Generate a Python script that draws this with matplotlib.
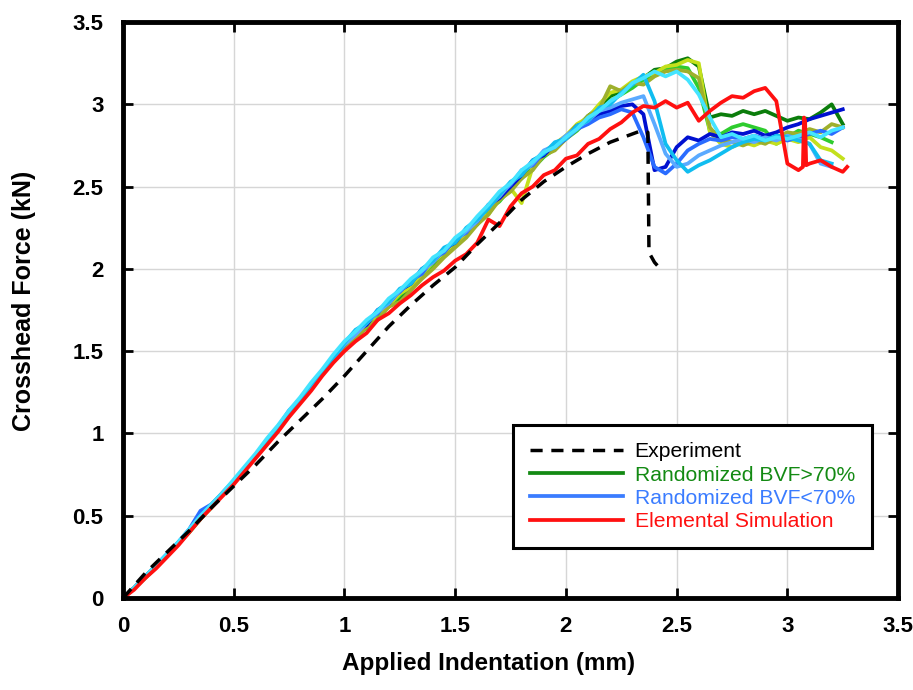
import numpy as np
import matplotlib
matplotlib.use('Agg')
import matplotlib.pyplot as plt
from matplotlib.lines import Line2D

nan = np.nan

# shared indentation grid (mm) for the simulation curves
x_grid = [0.00, 0.05, 0.10, 0.15, 0.20, 0.25, 0.30, 0.35, 0.40, 0.45,
          0.50, 0.55, 0.60, 0.65, 0.70, 0.75, 0.80, 0.85, 0.90, 0.95,
          1.00, 1.05, 1.10, 1.15, 1.20, 1.25, 1.30, 1.35, 1.40, 1.45,
          1.50, 1.55, 1.60, 1.65, 1.70, 1.75, 1.80, 1.85, 1.90, 1.95,
          2.00, 2.05, 2.10, 2.15, 2.20, 2.25, 2.30, 2.35, 2.40, 2.45,
          2.50, 2.55, 2.60, 2.65, 2.70, 2.75, 2.80, 2.85, 2.90, 2.95,
          3.00, 3.05, 3.10, 3.15, 3.20, 3.25]

# Randomized BVF>70% runs (kN)
bvf_high = {
    '#0b7d0b': [0.00, 0.06, 0.13, 0.19, 0.26, 0.33, 0.41, 0.48, 0.56, 0.63, 0.70,
                0.78, 0.86, 0.94, 1.03, 1.11, 1.20, 1.28, 1.37, 1.44, 1.52,
                1.58, 1.66, 1.70, 1.79, 1.81, 1.88, 1.96, 2.02, 2.08, 2.15,
                2.20, 2.29, 2.35, 2.43, 2.50, 2.55, 2.63, 2.70, 2.74, 2.80,
                2.86, 2.93, 2.98, 3.05, 3.08, 3.12, 3.16, 3.21, 3.22, 3.26,
                3.28, 3.23, 2.92, 2.94, 2.93, 2.96, 2.94, 2.96, 2.93, 2.90,
                2.92, 2.91, 2.95, 3.00, 2.88],
    '#2ecc2e': [0.00, 0.06, 0.12, 0.19, 0.26, 0.33, 0.40, 0.48, 0.55, 0.63, 0.70,
                0.78, 0.86, 0.94, 1.02, 1.11, 1.19, 1.28, 1.36, 1.44, 1.51,
                1.59, 1.64, 1.72, 1.77, 1.84, 1.90, 1.95, 2.03, 2.09, 2.14,
                2.22, 2.27, 2.36, 2.41, 2.49, 2.56, 2.61, 2.68, 2.73, 2.79,
                2.84, 2.91, 2.95, 3.02, 3.06, 3.10, 3.15, 3.18, 3.21, 3.23,
                3.22, 3.10, 2.84, 2.82, 2.86, 2.88, 2.86, 2.84, 2.76, 2.80,
                2.84, 2.82, 2.80, 2.77, nan],
    '#c4e01c': [0.00, 0.06, 0.13, 0.20, 0.26, 0.33, 0.41, 0.49, 0.56, 0.63, 0.70,
                0.78, 0.86, 0.95, 1.03, 1.12, 1.20, 1.29, 1.37, 1.45, 1.53,
                1.60, 1.65, 1.73, 1.78, 1.85, 1.89, 1.97, 2.04, 2.10, 2.16,
                2.21, 2.30, 2.33, 2.44, 2.49, 2.40, 2.62, 2.71, 2.76, 2.81,
                2.88, 2.92, 3.00, 3.07, 3.09, 3.14, 3.17, 3.19, 3.23, 3.24,
                3.27, 3.25, 2.83, 2.76, 2.74, 2.77, 2.75, 2.78, 2.76, 2.79,
                2.77, 2.80, 2.74, 2.72, 2.67],
    '#9eb02c': [0.00, 0.06, 0.13, 0.19, 0.26, 0.33, 0.41, 0.49, 0.56, 0.63, 0.70,
                0.78, 0.86, 0.94, 1.03, 1.11, 1.20, 1.28, 1.36, 1.44, 1.52,
                1.57, 1.65, 1.69, 1.77, 1.80, 1.87, 1.94, 2.00, 2.07, 2.13,
                2.19, 2.27, 2.33, 2.42, 2.47, 2.55, 2.60, 2.69, 2.72, 2.79,
                2.85, 2.93, 2.97, 3.11, 3.08, 3.13, 3.12, 3.17, 3.20, 3.21,
                3.20, 3.16, 2.86, 2.78, 2.77, 2.75, 2.78, 2.76, 2.80, 2.83,
                2.82, 2.85, 2.83, 2.88, 2.86],
}

# Randomized BVF<70% runs (kN)
bvf_low = {
    '#0010d0': [0.00, 0.06, 0.13, 0.19, 0.26, 0.33, 0.41, 0.50, 0.56, 0.64, 0.71,
                0.79, 0.87, 0.95, 1.04, 1.12, 1.21, 1.29, 1.38, 1.46, 1.54,
                1.62, 1.66, 1.75, 1.79, 1.87, 1.91, 2.00, 2.04, 2.12, 2.16,
                2.24, 2.29, 2.39, 2.43, 2.50, 2.57, 2.66, 2.69, 2.76, 2.80,
                2.87, 2.89, 2.94, 2.96, 2.99, 3.00, 2.94, 2.60, 2.62, 2.74,
                2.80, 2.78, 2.82, 2.80, 2.83, 2.82, 2.84, 2.81, 2.83, 2.86,
                2.88, 2.91, 2.93, 2.95, 2.97],
    '#2a6cff': [0.00, 0.06, 0.13, 0.20, 0.27, 0.34, 0.42, 0.53, 0.57, 0.64, 0.71,
                0.79, 0.87, 0.96, 1.04, 1.14, 1.21, 1.30, 1.38, 1.46, 1.55,
                1.61, 1.68, 1.73, 1.81, 1.86, 1.93, 1.97, 2.06, 2.10, 2.18,
                2.22, 2.31, 2.37, 2.46, 2.51, 2.60, 2.63, 2.71, 2.74, 2.79,
                2.85, 2.88, 2.92, 2.94, 2.97, 2.95, 2.80, 2.62, 2.58, 2.64,
                2.72, 2.76, 2.79, 2.78, 2.80, 2.79, 2.81, 2.79, 2.80, 2.78,
                2.80, 2.82, 2.84, 2.82, 2.86],
    '#5aaaff': [0.00, 0.06, 0.13, 0.19, 0.26, 0.33, 0.41, 0.49, 0.56, 0.64, 0.71,
                0.79, 0.87, 0.95, 1.04, 1.13, 1.21, 1.29, 1.38, 1.46, 1.54,
                1.60, 1.67, 1.74, 1.79, 1.87, 1.92, 1.99, 2.04, 2.12, 2.17,
                2.23, 2.29, 2.38, 2.44, 2.52, 2.58, 2.64, 2.72, 2.75, 2.81,
                2.86, 2.90, 2.96, 2.98, 3.01, 3.03, 3.05, 2.88, 2.70, 2.62,
                2.64, 2.69, 2.72, 2.75, 2.77, 2.79, 2.77, 2.80, 2.78, 2.81,
                2.79, 2.76, 2.64, 2.62, nan],
    '#10bdf0': [0.00, 0.06, 0.13, 0.19, 0.26, 0.34, 0.41, 0.49, 0.57, 0.64, 0.71,
                0.79, 0.87, 0.96, 1.04, 1.13, 1.21, 1.30, 1.38, 1.46, 1.55,
                1.63, 1.67, 1.75, 1.80, 1.88, 1.91, 2.00, 2.05, 2.13, 2.16,
                2.25, 2.30, 2.37, 2.45, 2.53, 2.57, 2.66, 2.70, 2.77, 2.79,
                2.87, 2.90, 2.98, 3.00, 3.07, 3.12, 3.18, 3.02, 2.76, 2.66,
                2.59, 2.63, 2.66, 2.70, 2.74, 2.77, 2.79, 2.78, 2.81, 2.80,
                2.78, 2.76, 2.66, 2.64, nan],
    '#44e4ff': [0.00, 0.06, 0.13, 0.20, 0.27, 0.34, 0.42, 0.50, 0.57, 0.64, 0.72,
                0.80, 0.88, 0.97, 1.05, 1.14, 1.22, 1.31, 1.39, 1.48, 1.56,
                1.62, 1.69, 1.74, 1.82, 1.87, 1.94, 1.99, 2.07, 2.11, 2.19,
                2.24, 2.32, 2.39, 2.47, 2.52, 2.60, 2.65, 2.71, 2.74, 2.80,
                2.85, 2.92, 2.96, 3.02, 3.06, 3.13, 3.16, 3.20, 3.17, 3.20,
                3.15, 3.06, 2.92, 2.80, 2.82, 2.79, 2.81, 2.78, 2.80, 2.79,
                2.81, 2.83, 2.80, 2.84, 2.86],
}

# Elemental simulation
elem_x = [0.00, 0.05, 0.10, 0.15, 0.20, 0.25, 0.30, 0.35, 0.40, 0.45,
          0.50, 0.55, 0.60, 0.65, 0.70, 0.75, 0.80, 0.85, 0.90, 0.95,
          1.00, 1.05, 1.10, 1.15, 1.20, 1.25, 1.30, 1.35, 1.40, 1.45,
          1.50, 1.55, 1.60, 1.65, 1.70, 1.75, 1.80, 1.85, 1.90, 1.95,
          2.00, 2.05, 2.10, 2.15, 2.20, 2.25, 2.30, 2.35, 2.40, 2.45,
          2.50, 2.55, 2.60, 2.65, 2.70, 2.75, 2.80, 2.85, 2.90, 2.95,
          3.00, 3.05, 3.07, 3.075, 3.08, 3.085, 3.10, 3.15, 3.20, 3.25, 3.27]
elem_y = [0.00, 0.05, 0.12, 0.18, 0.25, 0.32, 0.40, 0.48, 0.55, 0.62,
          0.69, 0.77, 0.85, 0.93, 1.01, 1.10, 1.18, 1.26, 1.35, 1.43,
          1.50, 1.56, 1.61, 1.69, 1.73, 1.79, 1.84, 1.90, 1.95, 1.99,
          2.05, 2.09, 2.16, 2.30, 2.26, 2.38, 2.46, 2.50, 2.57, 2.60,
          2.67, 2.69, 2.76, 2.79, 2.85, 2.89, 2.95, 2.99, 2.98, 3.02,
          2.98, 3.01, 2.90, 2.96, 3.01, 3.05, 3.04, 3.08, 3.10, 3.02,
          2.64, 2.60, 2.62, 2.92, 2.90, 2.63, 2.64, 2.66, 2.62, 2.59, 2.62]

# Experiment
exp_x = [0.00, 0.10, 0.20, 0.30, 0.40, 0.50, 0.60, 0.70, 0.80, 0.90,
         1.00, 1.10, 1.20, 1.30, 1.40, 1.50, 1.60, 1.70, 1.80, 1.90,
         2.00, 2.10, 2.20, 2.28, 2.34, 2.37, 2.375, 2.40, 2.42]
exp_y = [0.00, 0.15, 0.28, 0.41, 0.55, 0.68, 0.81, 0.95, 1.08, 1.21,
         1.35, 1.50, 1.65, 1.78, 1.90, 2.01, 2.15, 2.28, 2.42, 2.53,
         2.62, 2.70, 2.77, 2.81, 2.84, 2.83, 2.10, 2.04, 2.01]

ticks = [0, 0.5, 1, 1.5, 2, 2.5, 3, 3.5]
tick_labels = ['0', '0.5', '1', '1.5', '2', '2.5', '3', '3.5']

legend_labels = ['Experiment', 'Randomized BVF>70%', 'Randomized BVF<70%', 'Elemental Simulation']
legend_colors = ['#000000', '#138a13', '#3a7cff', '#ff1010']

LW = 2.7


def main():
    plt.rcParams['font.family'] = ['Liberation Sans', 'DejaVu Sans']
    fig = plt.figure(figsize=(9.13, 6.90), dpi=100)
    ax = fig.add_axes([0.1347, 0.1333, 0.849, 0.8347])

    for color, ys in bvf_high.items():
        ax.plot(x_grid, ys, color=color, lw=LW, solid_joinstyle='round')
    for color, ys in bvf_low.items():
        ax.plot(x_grid, ys, color=color, lw=LW, solid_joinstyle='round')
    ax.plot(elem_x, elem_y, color='#ff1010', lw=LW, solid_joinstyle='round')
    ax.plot(exp_x, exp_y, color='black', lw=2.5, dashes=(3.5, 2.5))

    ax.set_xlim(0, 3.5)
    ax.set_ylim(0, 3.5)
    ax.set_xticks(ticks)
    ax.set_xticklabels(tick_labels)
    ax.set_yticks(ticks)
    ax.set_yticklabels(tick_labels)
    ax.grid(True, color='#d6d6d6', lw=1)
    ax.set_axisbelow(True)
    ax.tick_params(direction='in', length=7, width=2, top=True, right=True,
                   labelsize=16)
    ax.tick_params(axis='y', pad=14)
    ax.tick_params(axis='x', pad=13)
    for lab in ax.get_xticklabels() + ax.get_yticklabels():
        lab.set_fontweight('bold')
    for sp in ax.spines.values():
        sp.set_linewidth(3.5)

    ax.set_xlabel('Applied Indentation (mm)', fontsize=17.5, fontweight='bold')
    ax.xaxis.set_label_coords(0.471, -0.094)
    ax.set_ylabel('Crosshead Force (kN)', fontsize=18, fontweight='bold')
    ax.yaxis.set_label_coords(-0.112, 0.516)

    handles = [Line2D([], [], color=legend_colors[0], lw=2.5, dashes=(3.5, 2.5))]
    handles += [Line2D([], [], color=c, lw=LW) for c in legend_colors[1:]]
    leg = ax.legend(handles, legend_labels, loc='lower right', bbox_to_anchor=(0.966, 0.087),
                    borderaxespad=0, fontsize=15.2, handlelength=4.4, handletextpad=0.55,
                    labelspacing=0.2, borderpad=0.8, fancybox=False, framealpha=1,
                    edgecolor='black')
    leg.get_frame().set_linewidth(2.2)
    for txt, c in zip(leg.get_texts(), legend_colors):
        txt.set_color(c)

    fig.savefig('out.png', dpi=100)
    plt.close(fig)


if __name__ == '__main__':
    main()
